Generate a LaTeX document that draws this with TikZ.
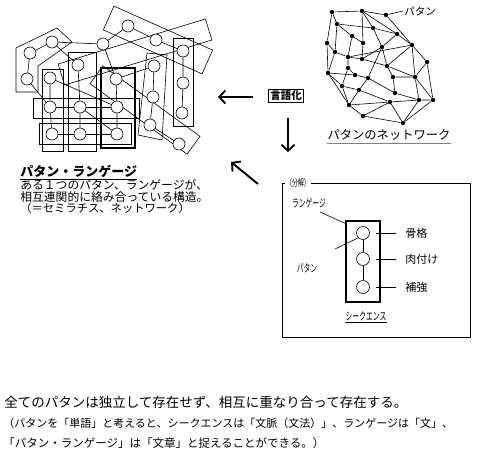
\documentclass[tikz,border=0pt]{standalone}
\usepackage{fontspec}
\usepackage{graphicx}
\newfontfamily\jp{Noto Sans CJK JP}
\usetikzlibrary{arrows.meta}
\newcommand{\hw}[1]{\scalebox{0.62}[1]{#1}}
\newcommand{\fs}[1]{\jp\fontsize{#1}{#1}\selectfont}

\tikzset{
  pat/.style={circle, draw, fill=white, inner sep=0pt, minimum size=12pt},
  dot/.style={circle, fill, inner sep=0pt, minimum size=4.5pt},
  seq/.style={circle, draw, fill=white, inner sep=0pt, minimum size=13pt},
  bigarrow/.style={line width=1.9pt, -{Straight Barb[length=6pt,width=13pt]}},
  txt/.style={inner sep=0pt, anchor=west},
}

\begin{document}
\begin{tikzpicture}[x=1pt, y=-1pt, line width=0.6pt]
  \useasboundingbox (0,0) rectangle (486,455);

  % overlapping languages
  \draw (16,48) -- (57,28) -- (72,42) -- (38,66) -- (38,92) -- (16,92) -- cycle;
  \draw (42,69) rectangle (63,151);
  \draw (68,52) rectangle (96,151);
  \draw (33,98) rectangle (139,118);
  \draw (39,123) rectangle (131,144);
  \draw (173,38) rectangle (193,126);
  \draw (147,53) -- (167,55) -- (162,140) -- (138,135) -- cycle;
  \draw[rotate around={-24:(158,40)}] (104,27) rectangle (212,53);
  \draw[rotate around={17:(135,52)}] (58,41) rectangle (212,63);
  \draw[rotate around={-36:(145,110)}] (85,99) rectangle (205,121);
  \draw[line width=1.3pt] (101,68) rectangle (135,148);

  \node[pat] (l1) at (52,42) {};
  \node[pat] (l2) at (30,53) {};
  \node[pat] (l3) at (27,79) {};
  \node[pat] (l4) at (128,26) {};
  \node[pat] (l5) at (156,40) {};
  \node[pat] (l6) at (103,44) {};
  \node[pat] (l7) at (183,51) {};
  \node[pat] (l8) at (78,65) {};
  \node[pat] (l9) at (154,66) {};
  \node[pat] (l10) at (116,79) {};
  \node[pat] (l11) at (50,78) {};
  \node[pat] (l12) at (183,83) {};
  \node[pat] (l13) at (153,97) {};
  \node[pat] (l14) at (50,107) {};
  \node[pat] (l15) at (80,107) {};
  \node[pat] (l16) at (117,107) {};
  \node[pat] (l17) at (182,113) {};
  \node[pat] (l18) at (150,125) {};
  \node[pat] (l19) at (52,134) {};
  \node[pat] (l20) at (80,134) {};
  \node[pat] (l21) at (117,134) {};
  \node[pat] (l22) at (179,144) {};

  \draw (l1) -- (l2) -- (l3) -- (l14);
  \draw (l1) -- (l8) -- (l15) -- (l20);
  \draw (l1) -- (l6) -- (l4) -- (l5) -- (l7);
  \draw (l6) -- (l10) -- (l16) -- (l21);
  \draw (l11) -- (l14) -- (l19);
  \draw (l14) -- (l15) -- (l16);
  \draw (l19) -- (l20) -- (l21);
  \draw (l7) -- (l12) -- (l17);
  \draw (l9) -- (l13) -- (l18) -- (l22);
  \draw (l10) -- (l9);
  \draw (l11) -- (l16);
  \draw (l15) -- (l21);

  \node[txt, font=\fs{13}\bfseries] (lang) at (20,171) {パタン・ランゲージ};
  \draw ([yshift=-1.5pt]lang.south west) -- ([yshift=-1.5pt]lang.south east);
  \node[txt, font=\fs{11.8}] (d1) at (20,185) {ある１つのパタン、ランゲージが、};
  \node[txt, font=\fs{11.8}] (d2) at (20,197) {相互連関的に絡み合っている構造。};
  \node[txt, font=\fs{11.3}] (d3) at (20,208) {（＝セミラチス、ネットワーク）};

  % network of patterns
  \node[dot] (n1) at (332,12) {};
  \node[dot] (n2) at (362,11) {};
  \node[dot] (n3) at (386,15) {};
  \node[dot] (n4) at (337,24) {};
  \node[dot] (n5) at (373,28) {};
  \node[dot] (n6) at (352,36) {};
  \node[dot] (n7) at (397,34) {};
  \node[dot] (n8) at (327,43) {};
  \node[dot] (n9) at (363,43) {};
  \node[dot] (n10) at (335,52) {};
  \node[dot] (n11) at (382,47) {};
  \node[dot] (n12) at (412,45) {};
  \node[dot] (n13) at (348,57) {};
  \node[dot] (n14) at (362,59) {};
  \node[dot] (n15) at (427,62) {};
  \node[dot] (n16) at (387,66) {};
  \node[dot] (n17) at (348,68) {};
  \node[dot] (n18) at (328,73) {};
  \node[dot] (n19) at (355,75) {};
  \node[dot] (n20) at (368,78) {};
  \node[dot] (n21) at (393,77) {};
  \node[dot] (n22) at (415,77) {};
  \node[dot] (n23) at (342,86) {};
  \node[dot] (n24) at (359,90) {};
  \node[dot] (n25) at (395,93) {};
  \node[dot] (n26) at (349,105) {};
  \node[dot] (n27) at (390,102) {};
  \node[dot] (n28) at (419,100) {};
  \node[dot] (n29) at (433,100) {};
  \node[dot] (n30) at (363,116) {};
  \node[dot] (n31) at (403,123) {};

  \draw (n1) -- (n2) -- (n3) -- (n12) -- (n15) -- (n29) -- (n31) -- (n30) -- (n26) -- (n18) -- (n8) -- (n1);
  \draw (n1) -- (n4) -- (n6) -- (n9) -- (n2);
  \draw (n4) -- (n5) -- (n7) -- (n12);
  \draw (n2) -- (n5) -- (n11) -- (n16) -- (n22) -- (n28) -- (n31);
  \draw (n2) -- (n7) -- (n11) -- (n14) -- (n9);
  \draw (n4) -- (n10) -- (n13) -- (n6);
  \draw (n8) -- (n10) -- (n18);
  \draw (n13) -- (n14) -- (n16) -- (n21) -- (n25) -- (n28) -- (n29);
  \draw (n13) -- (n12) -- (n22) -- (n15);
  \draw (n13) -- (n17) -- (n19) -- (n20) -- (n11);
  \draw (n18) -- (n19);
  \draw (n17) -- (n23) -- (n18);
  \draw (n23) -- (n24) -- (n20) -- (n25);
  \draw (n23) -- (n26) -- (n24) -- (n27) -- (n28);
  \draw (n21) -- (n22) -- (n29);
  \draw (n26) -- (n27) -- (n30);
  \draw (n27) -- (n31);
  \draw (n12) -- (n16);

  \node[txt, font=\fs{10.5}] (plab) at (404,11) {パタン};
  \draw (n3) -- ([xshift=-1pt]plab.west);
  \node[inner sep=0pt, font=\fs{12.3}] (net) at (389,135) {パタンのネットワーク};
  \draw[gray, line width=1.2pt] ([yshift=-2.5pt]net.south west) -- ([yshift=-2.5pt]net.south east);

  % verbalise
  \node[draw, inner sep=1.5pt, font=\fs{10.5}\bfseries] (verb) at (286,96) {言語化};
  \coordinate (a1s) at (253,97);
  \coordinate (a1e) at (218,97);
  \coordinate (a2s) at (288,118);
  \coordinate (a2e) at (288,152);
  \coordinate (a3s) at (258,184);
  \coordinate (a3e) at (231,162);
  \draw[bigarrow] (a1s) -- (a1e);
  \draw[bigarrow] (a2s) -- (a2e);
  \draw[bigarrow] (a3s) -- (a3e);

  % decomposition
  \draw (282,183) rectangle (470,337);
  \node[fill=white, inner sep=1pt, font=\fs{9.5}] (bunkai) at (298,183) {\hw{（分解）}};
  \node[draw, line width=1.2pt, minimum width=34pt, minimum height=81pt] (lg) at (363,261.5) {};
  \node[seq] (s1) at (363,233) {};
  \node[seq] (s2) at (363,259) {};
  \node[seq] (s3) at (363,287) {};
  \draw (s1) -- (s2) -- (s3);
  \node[inner sep=0pt, font=\fs{11}] (ltxt) at (309,203) {\hw{ランゲージ}};
  \coordinate (lpt) at (320,212);
  \draw (lpt) -- ([yshift=-3pt]lg.north west);
  \node[inner sep=0pt, font=\fs{11}] (ptxt) at (307,268) {\hw{パタン}};
  \coordinate (ppt) at (335,249);
  \draw (ppt) -- (s1.south west);
  \node[txt, font=\fs{11}] (t1) at (405,233) {骨格};
  \node[txt, font=\fs{11}] (t2) at (405,259) {肉付け};
  \node[txt, font=\fs{11}] (t3) at (405,287) {補強};
  \draw ([xshift=6pt]s1.east) -- ([xshift=-9pt]t1.west);
  \draw ([xshift=6pt]s2.east) -- ([xshift=-9pt]t2.west);
  \draw ([xshift=6pt]s3.east) -- ([xshift=-9pt]t3.west);
  \node[inner sep=0pt, font=\fs{11}] (seqt) at (366,316) {\hw{シークエンス}};
  \draw ([yshift=-1.5pt]seqt.south west) -- ([yshift=-1.5pt]seqt.south east);

  % notes
  \node[txt, font=\fs{13.5}] (c1) at (4,402) {全てのパタンは独立して存在せず、相互に重なり合って存在する。};
  \node[txt, font=\fs{11}] (c2) at (3,423) {（パタンを「単語」と考えると、シークエンスは「文脈（文法）」、ランゲージは「文」、};
  \node[txt, font=\fs{11.5}] (c3) at (3,443) {「パタン・ランゲージ」は「文章」と捉えることができる。）};
\end{tikzpicture}
\end{document}
